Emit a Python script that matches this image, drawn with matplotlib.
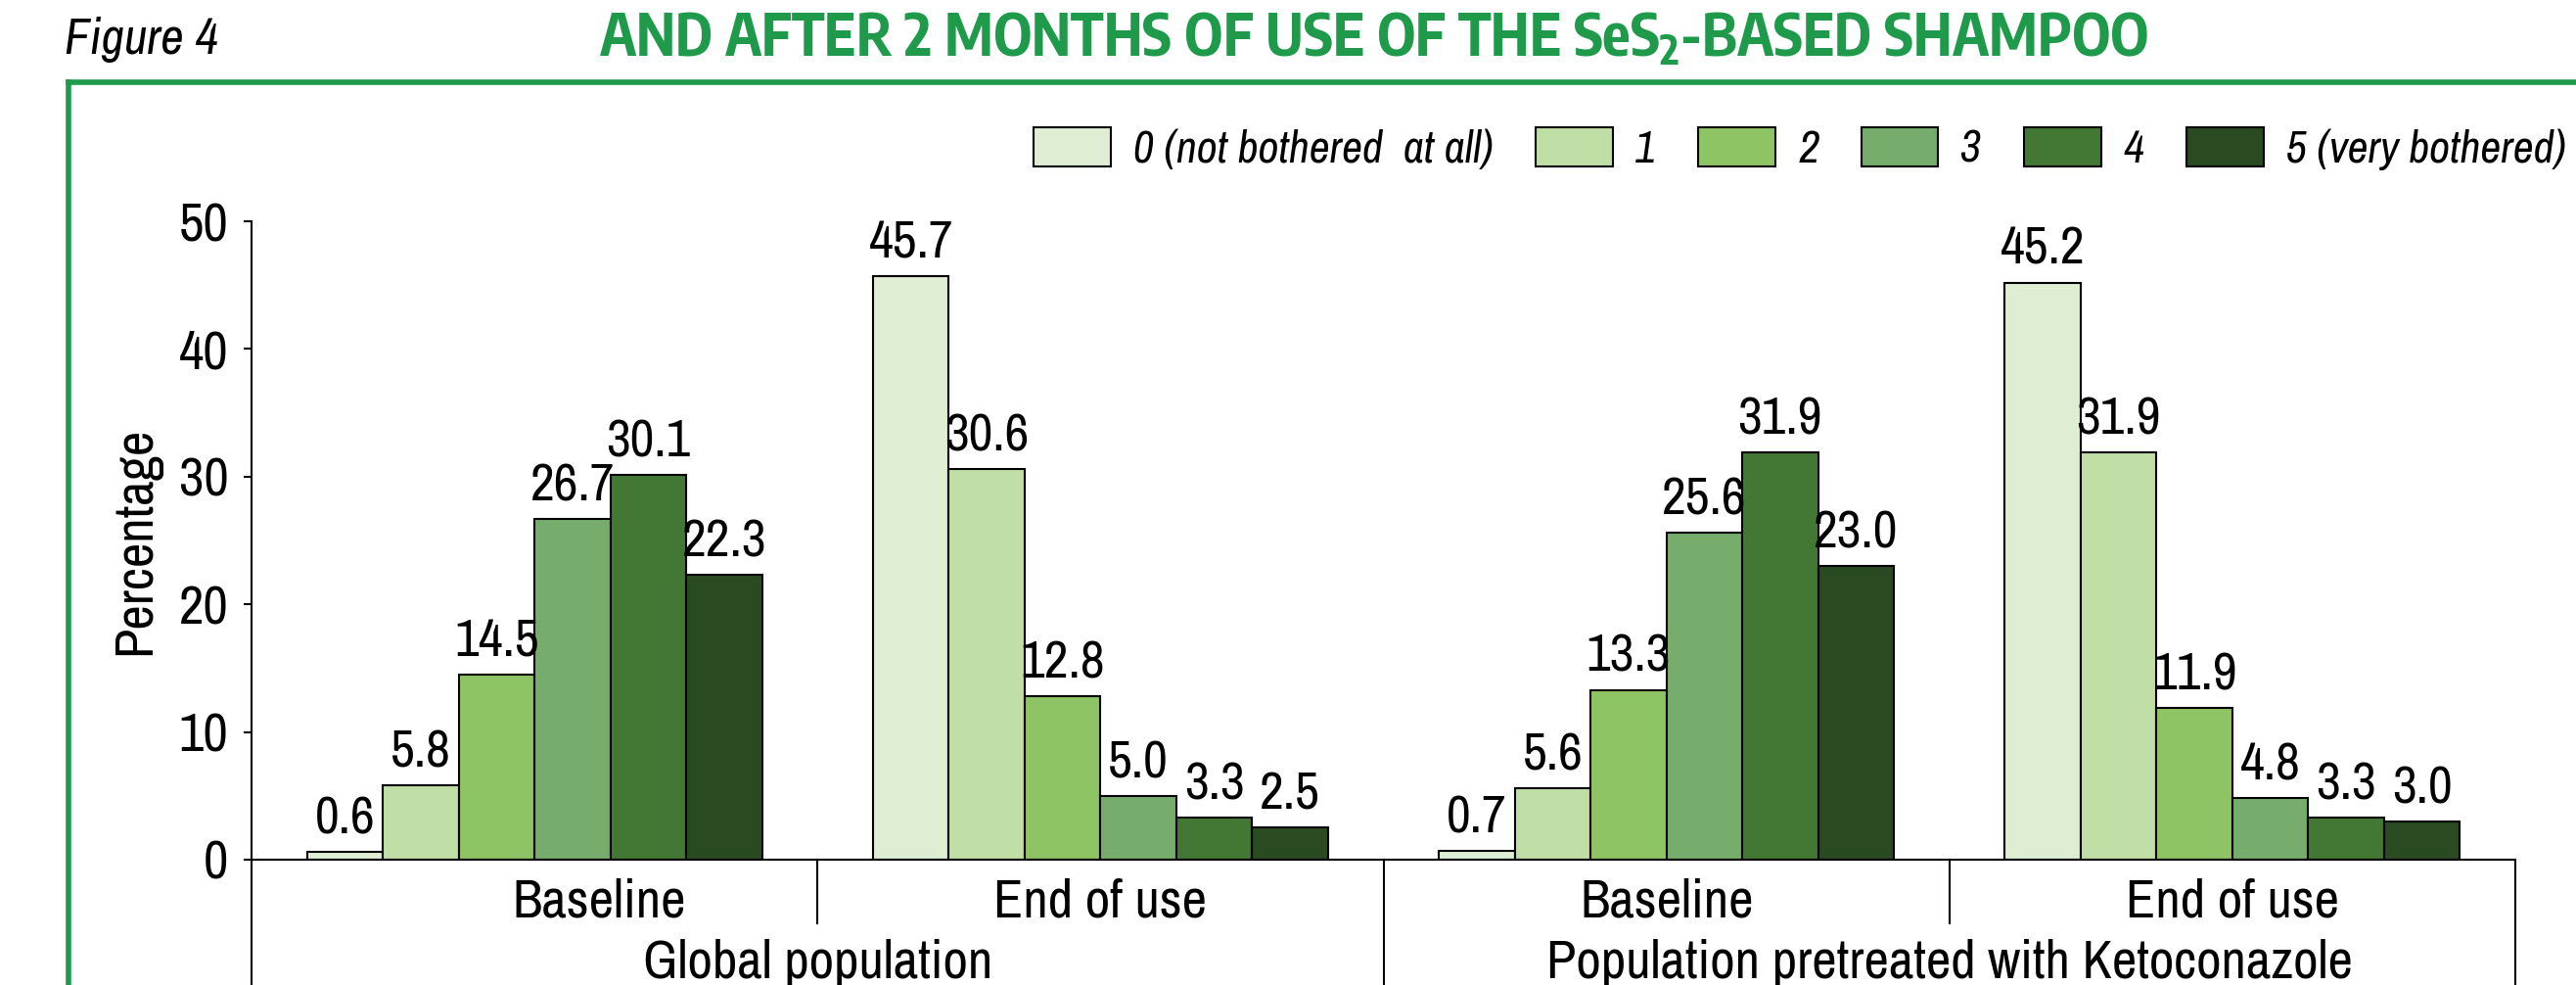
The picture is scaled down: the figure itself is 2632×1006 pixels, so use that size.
import numpy as np
import matplotlib
matplotlib.use("Agg")
import matplotlib.pyplot as plt
from matplotlib.patches import Patch
from matplotlib.lines import Line2D
from matplotlib.transforms import ScaledTranslation

plt.rcParams['font.family'] = ['Archivo Narrow', 'Liberation Sans Narrow', 'Liberation Sans', 'DejaVu Sans']
title_font = ['Encode Sans Condensed', 'Liberation Sans', 'DejaVu Sans']
plt.rcParams['mathtext.fontset'] = 'custom'
plt.rcParams['mathtext.bf'] = 'Encode Sans Condensed:bold'
plt.rcParams['mathtext.rm'] = 'Encode Sans Condensed'
plt.rcParams['mathtext.default'] = 'bf'

# data
categories = ['Baseline', 'End of use', 'Baseline', 'End of use']
groups = ['Global population', 'Population pretreated with Ketoconazole']
levels = ['0 (not bothered  at all)', '1', '2', '3', '4', '5 (very bothered)']
score0 = [0.6, 45.7, 0.7, 45.2]
score1 = [5.8, 30.6, 5.6, 31.9]
score2 = [14.5, 12.8, 13.3, 11.9]
score3 = [26.7, 5.0, 25.6, 4.8]
score4 = [30.1, 3.3, 31.9, 3.3]
score5 = [22.3, 2.5, 23.0, 3.0]
series = [score0, score1, score2, score3, score4, score5]

colors = ['#dfedd3', '#c0dfa6', '#8ec463', '#77ad6c', '#437834', '#2a4a22']
green = '#1f9a4b'

W, H = 2632, 1006
fig = plt.figure(figsize=(W / 100, H / 100), dpi=100)
ax = fig.add_axes([257 / W, (H - 878) / H, (2570 - 257) / W, (878 - 226) / H])

x = np.arange(len(categories))
bw = 0.134
for i, vals in enumerate(series):
    pos = x + (i - 2.5) * bw
    bars = ax.bar(pos, vals, width=bw, color=colors[i], edgecolor='black', linewidth=1.5)
    ax.bar_label(bars, fmt='%.1f', padding=7, fontsize=39)

ax.set_xlim(-0.5, 3.5)
ax.set_ylim(0, 50)
ax.set_yticks([0, 10, 20, 30, 40, 50])
ax.tick_params(axis='y', labelsize=40, length=6, width=1.5, pad=11)
ax.set_xticks(x)
ax.set_xticklabels(categories, fontsize=40)
ax.tick_params(axis='x', length=0, pad=13)
# the first "Baseline" sits a little right of its bars in the original
lbl = ax.get_xticklabels()[0]
lbl.set_transform(lbl.get_transform() + ScaledTranslation(0.66, 0, fig.dpi_scale_trans))
ax.set_ylabel('Percentage', fontsize=40)
ax.yaxis.set_label_coords(-0.04, 0.5)

for s in ['top', 'right']:
    ax.spines[s].set_visible(False)
ax.spines['left'].set_linewidth(1.5)
ax.spines['bottom'].set_linewidth(1.5)

# group separators below the axis
tr = ax.get_xaxis_transform()
for xs in [-0.5, 1.5, 3.5]:
    ax.plot([xs, xs], [0, -0.25], color='black', lw=1.5, transform=tr, clip_on=False)
for xs in [0.5, 2.5]:
    ax.plot([xs, xs], [0, -0.1], color='black', lw=1.5, transform=tr, clip_on=False)
for gi, g in enumerate(groups):
    ax.text(0.5 + 2 * gi, -0.162, g, transform=tr, ha='center', va='center', fontsize=40)

# legend
handles = [Patch(facecolor=c, edgecolor='black', linewidth=1.5) for c in colors]
fig.legend(handles, levels, loc='center left', bbox_to_anchor=(1056 / W, 1 - 152 / H),
           ncol=6, frameon=False, borderpad=0, borderaxespad=0,
           handlelength=1.72, handleheight=0.94, handletextpad=0.5, columnspacing=0.95,
           prop={'size': 33, 'style': 'italic'})

# frame and titles
fig.add_artist(Line2D([70 / W, 1.01], [1 - 84 / H, 1 - 84 / H], color=green, lw=4, transform=fig.transFigure))
fig.add_artist(Line2D([70 / W, 70 / W], [1 - 84 / H, -0.01], color=green, lw=4, transform=fig.transFigure))
fig.text(66 / W, 1 - 40 / H, 'Figure 4', fontsize=37, style='italic', ha='left', va='center')
fig.text(1404 / W, 1 - 40 / H, 'AND AFTER 2 MONTHS OF USE OF THE SeS$_2$-BASED SHAMPOO',
         fontsize=43, fontweight='bold', color=green, ha='center', va='center', family=title_font)

fig.savefig('out.png', dpi=100)
